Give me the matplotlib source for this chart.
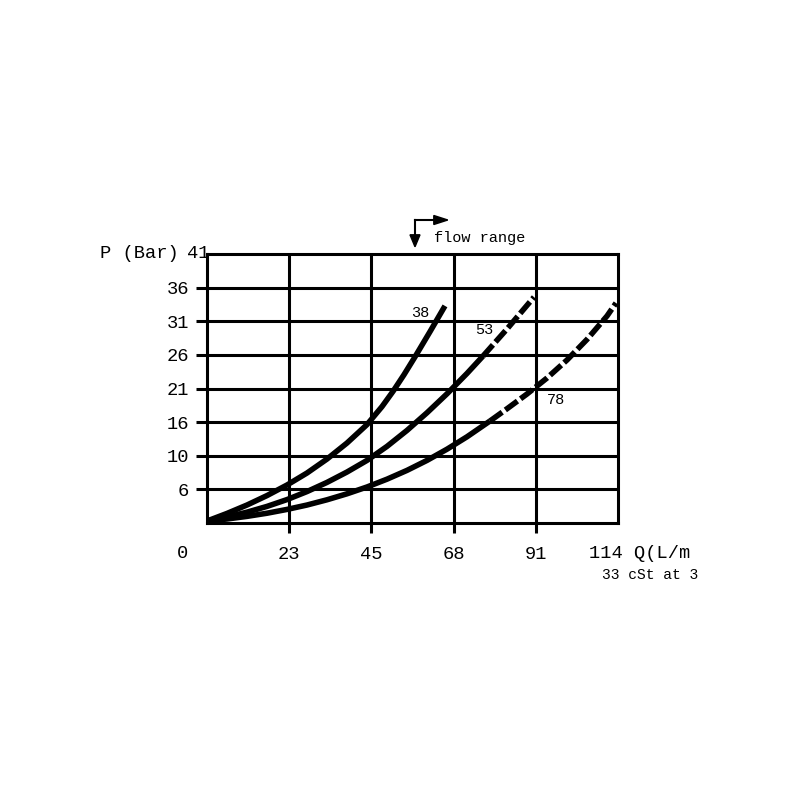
import matplotlib
matplotlib.use("Agg")
import matplotlib.pyplot as plt

# ---- data ----
x_labels = ["0", "23", "45", "68", "91", "114"]
y_labels = ["0", "6", "10", "16", "21", "26", "31", "36", "41"]
x_max = 114.0
y_max = 41.0

q38 = [0, 5.55, 11.09, 16.64, 22.19, 27.74, 33.29, 38.83, 44.38, 48.54, 51.59, 54.64, 57.69, 61.85, 66.01]
p38 = [0.30, 1.46, 2.74, 4.18, 5.79, 7.62, 9.75, 12.19, 15.00, 17.74, 20.06, 22.60, 25.32, 29.16, 33.09]

q53_solid = [0, 5.55, 11.09, 16.64, 22.19, 27.74, 33.29, 38.83, 44.38, 49.93, 55.47, 61.02, 66.57, 72.12, 76.55]
p53_solid = [0.30, 0.91, 1.65, 2.53, 3.57, 4.79, 6.19, 7.77, 9.54, 11.68, 14.11, 16.80, 19.69, 22.80, 25.44]
q53_dash = [76.55, 83.21, 90.70]
p53_dash = [25.44, 29.57, 34.43]

q78_solid = [0, 5.55, 11.09, 16.64, 22.19, 27.74, 33.29, 38.83, 44.38, 49.93, 55.47, 61.02, 66.57, 72.12, 78.50]
p78_solid = [0.30, 0.61, 1.01, 1.49, 2.07, 2.74, 3.54, 4.45, 5.49, 6.68, 8.02, 9.54, 11.25, 13.14, 15.55]
q78_dash = [78.50, 83.21, 88.76, 94.31, 99.85, 105.40, 110.95, 113.45]
p78_dash = [15.55, 17.41, 19.66, 22.10, 24.84, 27.98, 31.55, 33.53]

curve_labels = ["38", "53", "78"]

FONT = ["Liberation Mono", "DejaVu Sans Mono"]
plt.rcParams['font.family'] = FONT

fig = plt.figure(figsize=(8, 8), dpi=100)
ax = fig.add_axes([207/800, 277/800, 411/800, 269/800])
ax.set_xlim(0, x_max)
ax.set_ylim(0, y_max)

nx = len(x_labels) - 1
ny = len(y_labels) - 1
xg = [i * x_max / nx for i in range(nx + 1)]
yg = [j * y_max / ny for j in range(ny + 1)]

grid_lw = 2.2
for x in xg[1:-1]:
    ax.axvline(x, color="black", lw=grid_lw, zorder=1)
for y in yg[1:-1]:
    ax.axhline(y, color="black", lw=grid_lw, zorder=1)
for s in ax.spines.values():
    s.set_linewidth(grid_lw)
    s.set_color("black")

ax.set_xticks(xg[1:-1])
ax.set_xticklabels(x_labels[1:-1], fontsize=13.5)
ax.set_yticks(yg[1:-1])
ax.set_yticklabels(y_labels[1:-1], fontsize=13.5)
ax.tick_params(axis="x", length=7.5, width=grid_lw, pad=9)
ax.tick_params(axis="y", length=8, width=grid_lw, pad=5)

curve_lw = 4.0
dash = (2.7, 0.7)
solid_kw = dict(color="black", lw=curve_lw, zorder=3, solid_joinstyle="round", solid_capstyle="butt")
dash_kw = dict(color="black", lw=curve_lw, zorder=3, dashes=dash, dash_capstyle="butt",
               dash_joinstyle="round")
ax.plot(q38, p38, **solid_kw)
ax.plot(q53_solid, p53_solid, **solid_kw)
ax.plot(q53_dash, p53_dash, **dash_kw)
ax.plot(q78_solid, p78_solid, **solid_kw)
ax.plot(q78_dash, p78_dash, **dash_kw)

# curve labels
ax.text(59.1, 32.0, curve_labels[0], fontsize=11, ha="center", va="center", zorder=4)
ax.text(76.8, 29.4, curve_labels[1], fontsize=11, ha="center", va="center", zorder=4)
ax.text(96.8, 18.75, curve_labels[2], fontsize=11, ha="center", va="center", zorder=4)

# axis texts
fig.text(100/800, 1 - 254/800, "P (Bar)", fontsize=13.5, ha="left", va="center")
fig.text(198/800, 1 - 254/800, y_labels[-1], fontsize=13.5, ha="center", va="center")
fig.text(182/800, 1 - 553/800, x_labels[0], fontsize=13.5, ha="center", va="center")
fig.text(589/800, 1 - 553/800, x_labels[-1] + " Q(L/m", fontsize=13.5, ha="left", va="center")
fig.text(698/800, 1 - 575/800, "33 cSt at 3", fontsize=10.5, ha="right", va="center")

# flow range marker
fig.text(434/800, 1 - 238/800, "flow range", fontsize=11, ha="left", va="center")
fig.add_artist(plt.Line2D([415/800, 415/800], [1 - 220/800, 1 - 236/800], color="black", lw=1.5))
fig.add_artist(plt.Line2D([415/800, 434/800], [1 - 220/800, 1 - 220/800], color="black", lw=1.5))
fig.patches.append(matplotlib.patches.FancyArrow(415/800, 1 - 234/800, 0, -0.001, width=0,
                   head_width=10/800, head_length=12/800, color="black",
                   length_includes_head=False, transform=fig.transFigure))
fig.patches.append(matplotlib.patches.FancyArrow(433/800, 1 - 220/800, 0.001, 0, width=0,
                   head_width=9/800, head_length=14/800, color="black",
                   length_includes_head=False, transform=fig.transFigure))

fig.savefig("out.png", dpi=100, facecolor="white")
